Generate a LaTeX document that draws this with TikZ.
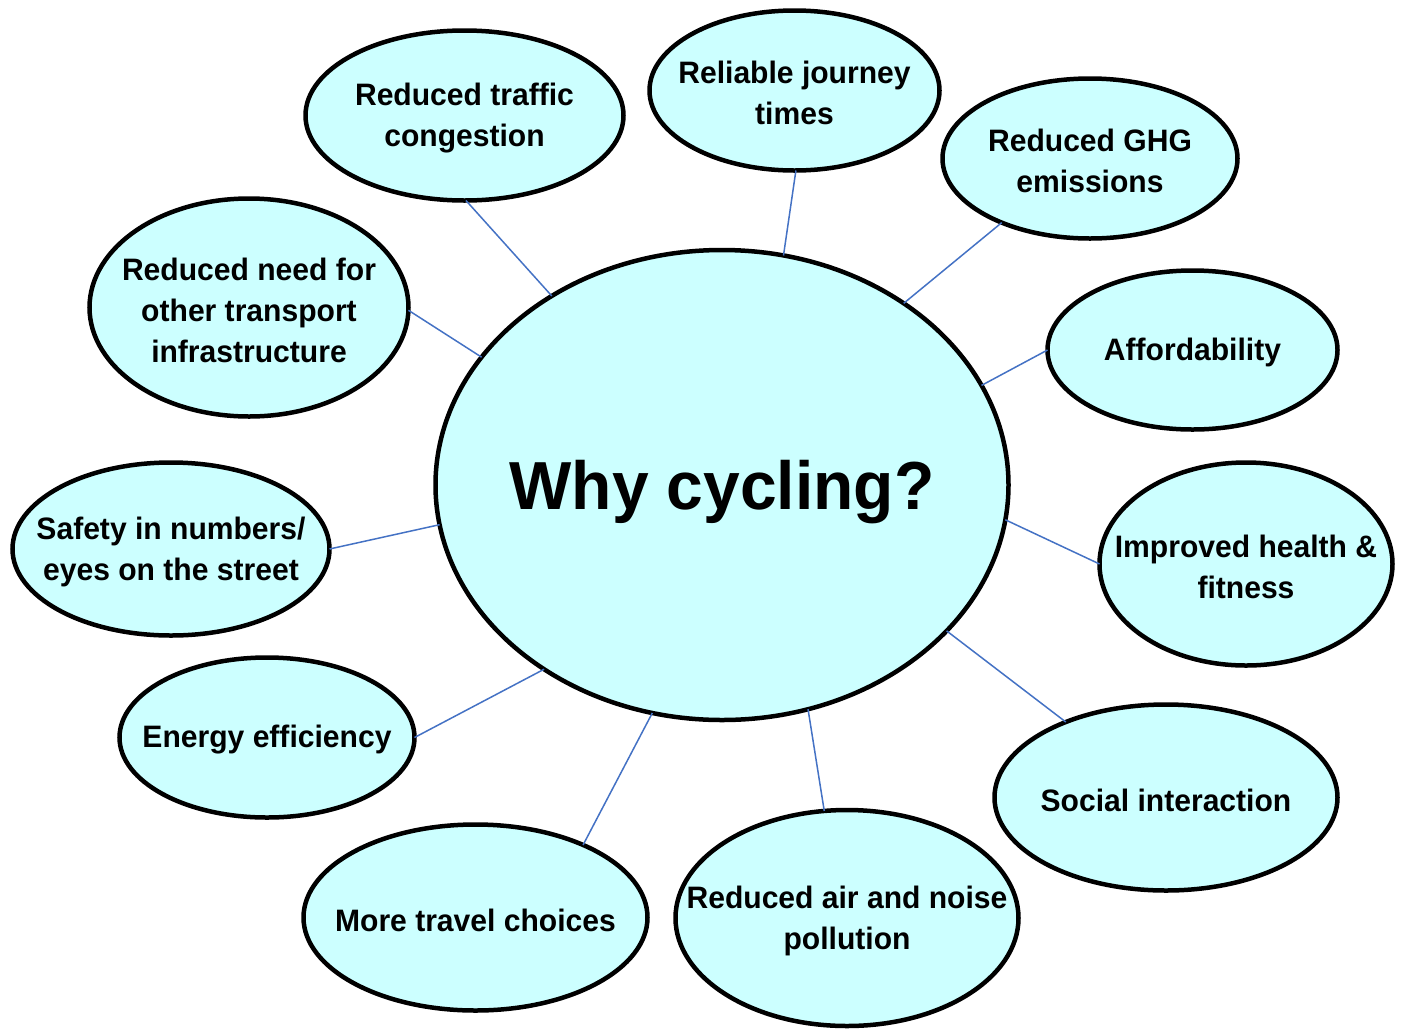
\documentclass[tikz,border=0pt]{standalone}
\usepackage{fontspec}
\setmainfont{Liberation Sans}
\usetikzlibrary{shapes.geometric}
\definecolor{bubble}{HTML}{CCFFFF}
\definecolor{link}{HTML}{4472C4}
\tikzset{
  bub/.style={ellipse, draw=black, line width=4.5pt, fill=bubble, inner sep=0pt, outer sep=0pt},
  txt/.style={align=center, font=\fontsize{31}{41}\selectfont\bfseries, xscale=0.97, yshift=-2.5pt},
  conn/.style={draw=link, line width=1.5pt}
}
\begin{document}
\begin{tikzpicture}[x=1pt,y=-1pt]
\useasboundingbox (0,0) rectangle (1406,1029);
\node[bub, minimum width=573, minimum height=470] (c) at (722,485) {};
\node[font=\fontsize{68}{72}\selectfont\bfseries, xscale=0.97] (ct) at (722,492) {Why cycling?};

\node[bub, minimum width=318, minimum height=170, label={[txt]center:Reduced traffic\\congestion}] (traffic) at (464.5,115.5) {};
\node[bub, minimum width=290, minimum height=160, label={[txt]center:Reliable journey\\times}] (journey) at (794.5,90.5) {};
\node[bub, minimum width=295, minimum height=160, label={[txt]center:Reduced GHG\\emissions}] (ghg) at (1090,158.5) {};
\node[bub, minimum width=290, minimum height=159, label={[txt]center:Affordability}] (afford) at (1192.5,350) {};
\node[bub, minimum width=293, minimum height=203, label={[txt]center:Improved health \&\\fitness}] (health) at (1246,564) {};
\node[bub, minimum width=343, minimum height=186, label={[txt]center:Social interaction}] (social) at (1166,797.5) {};
\node[bub, minimum width=343, minimum height=216, label={[txt]center:Reduced air and noise\\pollution}] (air) at (847,918) {};
\node[bub, minimum width=344, minimum height=186, label={[txt]center:More travel choices}] (travel) at (475.5,917.5) {};
\node[bub, minimum width=295, minimum height=160, label={[txt]center:Energy efficiency}] (energy) at (267,737.5) {};
\node[bub, minimum width=317, minimum height=173, label={[txt]center:Safety in numbers/\\eyes on the street}] (safety) at (171,549) {};
\node[bub, minimum width=319, minimum height=218, label={[txt]center:Reduced need for\\other transport\\infrastructure}] (infra) at (249,307.5) {};

\draw[conn] (c.132.8) -- (traffic.-89.4);
\draw[conn] (c.75.9) -- (journey.-89.3);
\draw[conn] (c.45.2) -- (ghg.216);
\draw[conn] (c.21.1) -- (afford.180);
\draw[conn] (c.-7.3) -- (health.180);
\draw[conn] (c.-33.2) -- (social.143.4);
\draw[conn] (c.-69.8) -- (air.102.2);
\draw[conn] (c.-107.3) -- (travel.34);
\draw[conn] (c.226.4) -- (energy.0);
\draw[conn] (c.188.4) -- (safety.0);
\draw[conn] (c.152.2) -- (infra.-1.4);
\end{tikzpicture}
\end{document}
